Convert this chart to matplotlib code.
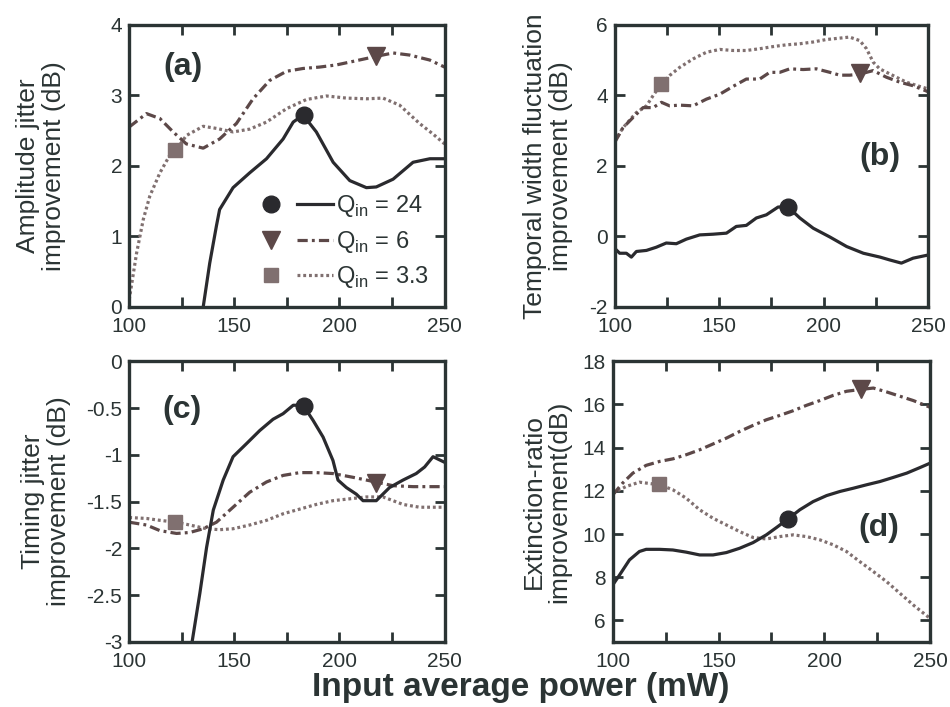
import matplotlib
matplotlib.use("Agg")
from matplotlib import pyplot as plt
from matplotlib.ticker import MultipleLocator, FormatStrFormatter
from matplotlib.legend_handler import HandlerTuple
from matplotlib.lines import Line2D

plt.rcParams['font.family'] = ['Liberation Sans', 'DejaVu Sans']
plt.rcParams['mathtext.fontset'] = 'custom'
plt.rcParams['mathtext.rm'] = 'Liberation Sans'
plt.rcParams['axes.unicode_minus'] = False

# ---- panel (a): amplitude jitter improvement (dB)
a24_x = [133.5, 135.2, 138.3, 141.5, 143, 149.4, 157.3, 165.3, 173.2, 178, 182.7, 189, 197, 204.9,
         212.8, 217.5, 225.5, 235, 243, 250]
a24_y = [-0.2, 0, 0.62, 1.15, 1.38, 1.69, 1.9, 2.1, 2.38, 2.62, 2.72, 2.48, 2.05, 1.79,
         1.69, 1.70, 1.81, 2.05, 2.1, 2.1]
a6_x = [100, 108.2, 114.6, 120.9, 127.2, 135.2, 143, 151, 158.9, 166.8, 174.8, 182.7, 190.6, 198.5,
        206.4, 217.2, 225.5, 233.4, 242.9, 250]
a6_y = [2.55, 2.74, 2.67, 2.48, 2.31, 2.25, 2.38, 2.6, 2.95, 3.21, 3.34, 3.38, 3.40, 3.43,
        3.48, 3.55, 3.6, 3.57, 3.5, 3.40]
a33_x = [100, 103.5, 106.7, 109.8, 114.6, 119.3, 122.2, 127.2, 135.2, 141.5, 149.4, 157.3, 165.3,
         174.8, 184.3, 193.8, 203.3, 212.8, 220.7, 228.6, 238.1, 244.5, 250]
a33_y = [0.1, 0.76, 1.24, 1.57, 1.9, 2.15, 2.22, 2.43, 2.56, 2.53, 2.48, 2.52, 2.62,
         2.81, 2.94, 2.99, 2.96, 2.95, 2.96, 2.86, 2.6, 2.45, 2.31]

# ---- panel (b): temporal width fluctuation improvement (dB)
b24_x = [100, 102.4, 105.6, 108, 110.4, 115.2, 119.9, 124.7, 129.5, 134.3, 140.7, 147.1, 153.5,
         158.2, 163, 167.8, 172.6, 178.2, 183, 188.6, 195, 203, 211, 219, 227, 231.6, 237.2,
         242.8, 250]
b24_y = [-0.34, -0.48, -0.48, -0.59, -0.43, -0.40, -0.31, -0.19, -0.21, -0.08, 0.04, 0.06, 0.09,
         0.28, 0.31, 0.52, 0.61, 0.83, 0.83, 0.52, 0.23, -0.02, -0.29, -0.48, -0.59, -0.67, -0.76,
         -0.62, -0.53]
b6_x = [100, 104, 108.8, 113.6, 118.4, 122.4, 126.3, 131.1, 137.5, 143.9, 150.3, 156.6, 163,
        169.4, 174.2, 179, 183.8, 190.2, 196.5, 203, 207.7, 212.5, 217.3, 223.7, 230.1, 236.5,
        242.8, 250]
b6_y = [2.66, 3.08, 3.37, 3.65, 3.65, 3.80, 3.70, 3.72, 3.70, 3.89, 4.03, 4.25, 4.46,
        4.46, 4.65, 4.65, 4.75, 4.73, 4.75, 4.65, 4.57, 4.57, 4.6, 4.7, 4.51, 4.37,
        4.27, 4.1]
b33_x = [100, 104, 110.4, 115.2, 118.4, 122.3, 126.3, 131.1, 137.5, 143.9, 150.3, 156.6, 163,
         169.4, 175.7, 182.1, 188.5, 194.9, 201.2, 207.6, 212.4, 217.3, 220.5, 223.7, 226.8,
         233.2, 239.6, 246, 250]
b33_y = [2.7, 3.08, 3.51, 3.7, 3.99, 4.32, 4.56, 4.79, 5.03, 5.22, 5.30, 5.27, 5.27,
         5.32, 5.38, 5.43, 5.46, 5.51, 5.58, 5.62, 5.65, 5.55, 5.32, 4.94, 4.75,
         4.56, 4.37, 4.25, 4.18]

# ---- panel (c): timing jitter improvement (dB)
c24_x = [129.2, 133.6, 136.8, 140, 144.7, 149.4, 155.8, 162.1, 168.4, 173.2, 178, 182.7, 187.4,
         192.2, 196.9, 199.3, 203.3, 208, 211.2, 217.5, 223.8, 230.2, 236.5, 240.5, 244.5, 250]
c24_y = [-3.1, -2.48, -1.99, -1.59, -1.27, -1.02, -0.88, -0.74, -0.62, -0.56, -0.47, -0.47, -0.63,
         -0.81, -1.06, -1.27, -1.35, -1.42, -1.49, -1.49, -1.35, -1.27, -1.2, -1.13, -1.02, -1.08]
c6_x = [100, 108.2, 114.6, 122.5, 128.8, 135.2, 141.5, 149.4, 157.3, 165.3, 173.2, 181.1, 189,
        196.9, 206.4, 217.2, 225.5, 235, 250]
c6_y = [-1.72, -1.75, -1.81, -1.84, -1.83, -1.79, -1.72, -1.56, -1.40, -1.29, -1.22, -1.19, -1.19,
        -1.20, -1.24, -1.29, -1.33, -1.34, -1.34]
c33_x = [100, 108.2, 114.6, 122.2, 128.8, 136.8, 143, 149.4, 157.3, 165.3, 173.2, 181.1, 189,
         196.9, 204.9, 212.8, 220.7, 225.5, 230.2, 238.1, 250]
c33_y = [-1.67, -1.68, -1.70, -1.72, -1.75, -1.79, -1.80, -1.79, -1.75, -1.70, -1.63, -1.58, -1.53,
         -1.49, -1.47, -1.45, -1.45, -1.49, -1.53, -1.56, -1.56]

# ---- panel (d): extinction-ratio improvement (dB)
d24_x = [100, 103.2, 107.9, 112.6, 115.8, 122.1, 128.4, 134.7, 141.1, 147.4, 153.7, 160, 166.3,
         172.6, 177.4, 182.9, 188.4, 194.7, 201.1, 207.4, 213.7, 220, 226.3, 232.6, 239, 245.3, 250]
d24_y = [7.64, 8.1, 8.8, 9.19, 9.29, 9.29, 9.26, 9.16, 9.03, 9.03, 9.14, 9.34, 9.60,
         9.96, 10.3, 10.7, 11.12, 11.5, 11.78, 11.97, 12.12, 12.28, 12.43, 12.62, 12.82, 13.08, 13.28]
d6_x = [100, 104.7, 109.5, 115.8, 122.1, 128.4, 134.7, 141.1, 147.4, 153.7, 160, 166.3, 172.6,
        178.9, 185.3, 191.6, 197.9, 204.2, 210.5, 216.8, 223.2, 229.5, 235.8, 242.1, 250]
d6_y = [11.81, 12.36, 12.82, 13.18, 13.36, 13.48, 13.67, 13.90, 14.17, 14.44, 14.75, 15.03, 15.29,
        15.49, 15.71, 15.96, 16.18, 16.42, 16.61, 16.69, 16.76, 16.58, 16.38, 16.18, 15.87]
d33_x = [100, 106.3, 112.6, 122.1, 128.4, 134.7, 141.1, 147.4, 153.7, 160, 166.3, 172.6, 178.9,
         185.3, 191.6, 197.9, 204.2, 210.5, 216.8, 223.2, 229.5, 235.8, 242.1, 250]
d33_y = [11.89, 12.2, 12.4, 12.28, 12.05, 11.66, 11.12, 10.73, 10.42, 10.11, 9.84, 9.77, 9.88,
         9.96, 9.88, 9.73, 9.50, 9.19, 8.72, 8.26, 7.79, 7.25, 6.71, 6.09]

# marker positions (x shared, y per panel: Q=24, Q=6, Q=3.3)
mark_x = [183, 217.5, 122]
mark_a = [2.72, 3.55, 2.22]
mark_b = [0.83, 4.62, 4.32]
mark_c = [-0.48, -1.3, -1.72]
mark_d = [10.7, 16.7, 12.3]

labels = ["Q$_{\\rm in}$ = 24", "Q$_{\\rm in}$ = 6", "Q$_{\\rm in}$ = 3.3"]
ylabels = ["Amplitude jitter\nimprovement (dB)",
           "Temporal width fluctuation\nimprovement (dB)",
           "Timing jitter\nimprovement (dB)",
           "Extinction-ratio\nimprovement(dB)"]
ylims = [(0, 4), (-2, 6), (-3, 0), (5, 18)]
ysteps = [1, 2, 0.5, 2]
tags = ["(a)", "(b)", "(c)", "(d)"]
tag_pos = [(125.5, 3.4), (227, 2.25), (125, -0.52), (226, 10.3)]
label_x = [-0.28, -0.214, -0.263, -0.208]

c24 = "#2a2a2e"
c6 = "#5c4848"
c33 = "#807070"
txt = "#2b3434"
ls6 = (0, (3.2, 1.3, 0.9, 1.3))
ls33 = (0, (0.9, 0.9))
lw = 2.3

fig = plt.figure(figsize=(9.5, 7.07), dpi=100)
boxes = [[0.136, 0.566, 0.332, 0.399],
         [0.647, 0.566, 0.330, 0.399],
         [0.136, 0.092, 0.332, 0.397],
         [0.645, 0.092, 0.334, 0.397]]
data = [(a24_x, a24_y, a6_x, a6_y, a33_x, a33_y, mark_a),
        (b24_x, b24_y, b6_x, b6_y, b33_x, b33_y, mark_b),
        (c24_x, c24_y, c6_x, c6_y, c33_x, c33_y, mark_c),
        (d24_x, d24_y, d6_x, d6_y, d33_x, d33_y, mark_d)]

for i in range(4):
    ax = fig.add_axes(boxes[i])
    x24, y24, x6, y6, x33, y33, mk = data[i]
    ax.plot(x33, y33, color=c33, lw=lw, linestyle=ls33)
    ax.plot(x6, y6, color=c6, lw=lw, linestyle=ls6)
    ax.plot(x24, y24, color=c24, lw=lw)
    ax.plot(mark_x[0], mk[0], "o", color=c24, markersize=12)
    ax.plot(mark_x[1], mk[1], "v", color=c6, markersize=13)
    ax.plot(mark_x[2], mk[2], "s", color=c33, markersize=10)

    ax.set_xlim(100, 250)
    ax.set_ylim(*ylims[i])
    ax.xaxis.set_major_locator(MultipleLocator(50))
    ax.xaxis.set_minor_locator(MultipleLocator(25))
    ax.yaxis.set_major_locator(MultipleLocator(ysteps[i]))
    ax.yaxis.set_major_formatter(FormatStrFormatter('%g'))
    ax.tick_params(which="both", direction="in", top=True, right=True, length=7,
                   width=2, color=txt, labelsize=15, labelcolor=txt)
    ax.tick_params(axis="x", which="both", pad=7)
    ax.tick_params(axis="y", which="both", pad=5)
    for s in ax.spines.values():
        s.set_linewidth(2.4)
        s.set_color(txt)
    ax.set_ylabel(ylabels[i], fontsize=19, color=txt, linespacing=1.1, va="center")
    ax.yaxis.set_label_coords(label_x[i], 0.5)
    ax.text(tag_pos[i][0], tag_pos[i][1], tags[i], fontsize=23, fontweight="bold",
            color=txt, ha="center", va="center")

    if i == 0:
        h24 = (Line2D([], [], marker="o", color=c24, ls="none", markersize=12),
               Line2D([], [], color=c24, lw=lw))
        h6 = (Line2D([], [], marker="v", color=c6, ls="none", markersize=13),
              Line2D([], [], color=c6, lw=lw, linestyle=ls6))
        h33 = (Line2D([], [], marker="s", color=c33, ls="none", markersize=10),
               Line2D([], [], color=c33, lw=lw, linestyle=ls33))
        leg = ax.legend([h24, h6, h33], labels, handler_map={tuple: HandlerTuple(ndivide=None, pad=0.3)},
                        loc="lower left", bbox_to_anchor=(0.34, 0.0), frameon=False,
                        fontsize=17, handlelength=3.4, handletextpad=0.1, labelspacing=0.4,
                        borderpad=0.2)
        for t in leg.get_texts():
            t.set_color(txt)

fig.text(0.548, 0.016, "Input average power (mW)", fontsize=24, fontweight="bold",
         color=txt, ha="center", va="baseline")

fig.savefig("out.png", dpi=100)
